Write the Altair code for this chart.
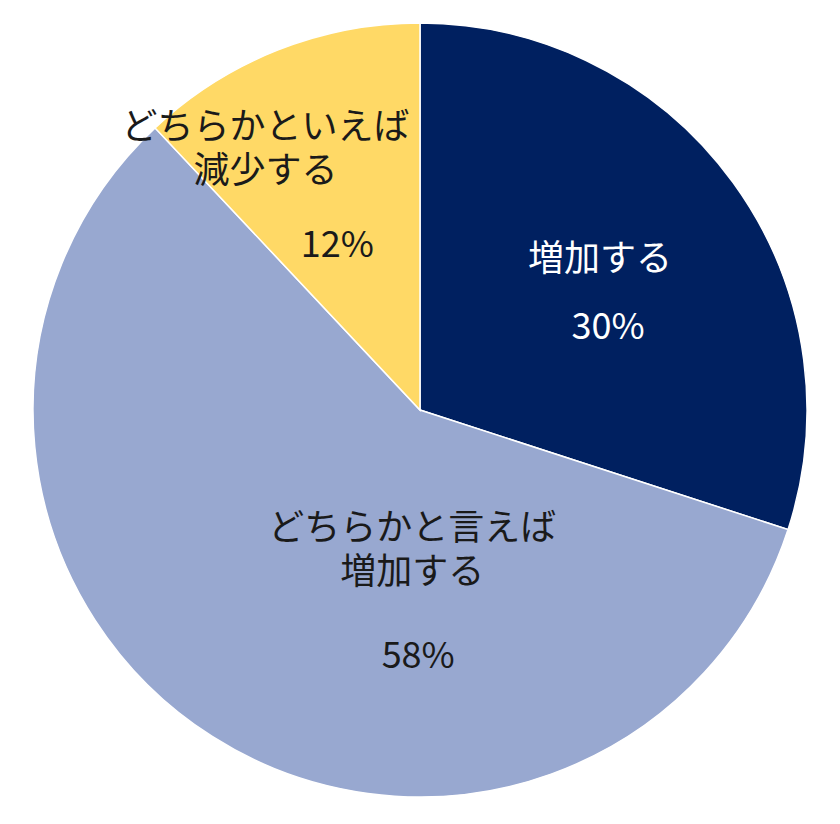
import altair as alt
import pandas as pd

# data
categories = ["増加する", "どちらかと言えば\n増加する", "どちらかといえば\n減少する"]
values = [30, 58, 12]
pct_labels = ["30%", "58%", "12%"]
colors = ["#002060", "#98A8D0", "#FFD966"]
text_colors = ["#FFFFFF", "#1A1A1A", "#1A1A1A"]

df = pd.DataFrame({
    "order": list(range(len(categories))),
    "cat": categories,
    "value": values,
    "pct": pct_labels,
})

W, H = 824, 804
R = 387
FONT = "Noto Sans CJK JP"
FS = 36
theta_scale = alt.Scale(domain=[0, 100])

pie = alt.Chart(df).mark_arc(outerRadius=R, stroke="white", strokeWidth=1.5).encode(
    theta=alt.Theta("value:Q", stack=True, scale=theta_scale),
    order=alt.Order("order:Q"),
    color=alt.Color("cat:N", scale=alt.Scale(domain=categories, range=colors), legend=None),
)

labels_base = alt.Chart(df).transform_window(
    cum="sum(value)", sort=[alt.SortField("order")]
).transform_calculate(
    mid="datum.cum - datum.value / 2"
).encode(
    theta=alt.Theta("mid:Q", stack=None, scale=theta_scale),
)

# label layout: (radius, name dx, name dy, pct dx, pct dy) per slice
layout = [
    (230, -6, -15, 2, 53),
    (190, 94, -41, 100, 87),
    (200, -81, -96, -9, 22),
]

layers = [pie]
for i, (r, ndx, ndy, pdx, pdy) in enumerate(layout):
    sub = labels_base.transform_filter(alt.datum.order == i)
    layers.append(
        sub.mark_text(radius=r, dx=ndx, dy=ndy, font=FONT, fontSize=FS,
                      lineBreak="\n", lineHeight=44, color=text_colors[i],
                      align="center", baseline="middle").encode(text="cat:N")
    )
    layers.append(
        sub.mark_text(radius=r, dx=pdx, dy=pdy, font=FONT, fontSize=FS,
                      color=text_colors[i], align="center", baseline="middle").encode(text="pct:N")
    )

chart = alt.layer(*layers).properties(
    width=W, height=H, autosize=alt.AutoSizeParams(type="none"), padding=0
).configure_view(stroke=None)

chart.save("out.html", embed_options={"renderer": "svg", "actions": False})
